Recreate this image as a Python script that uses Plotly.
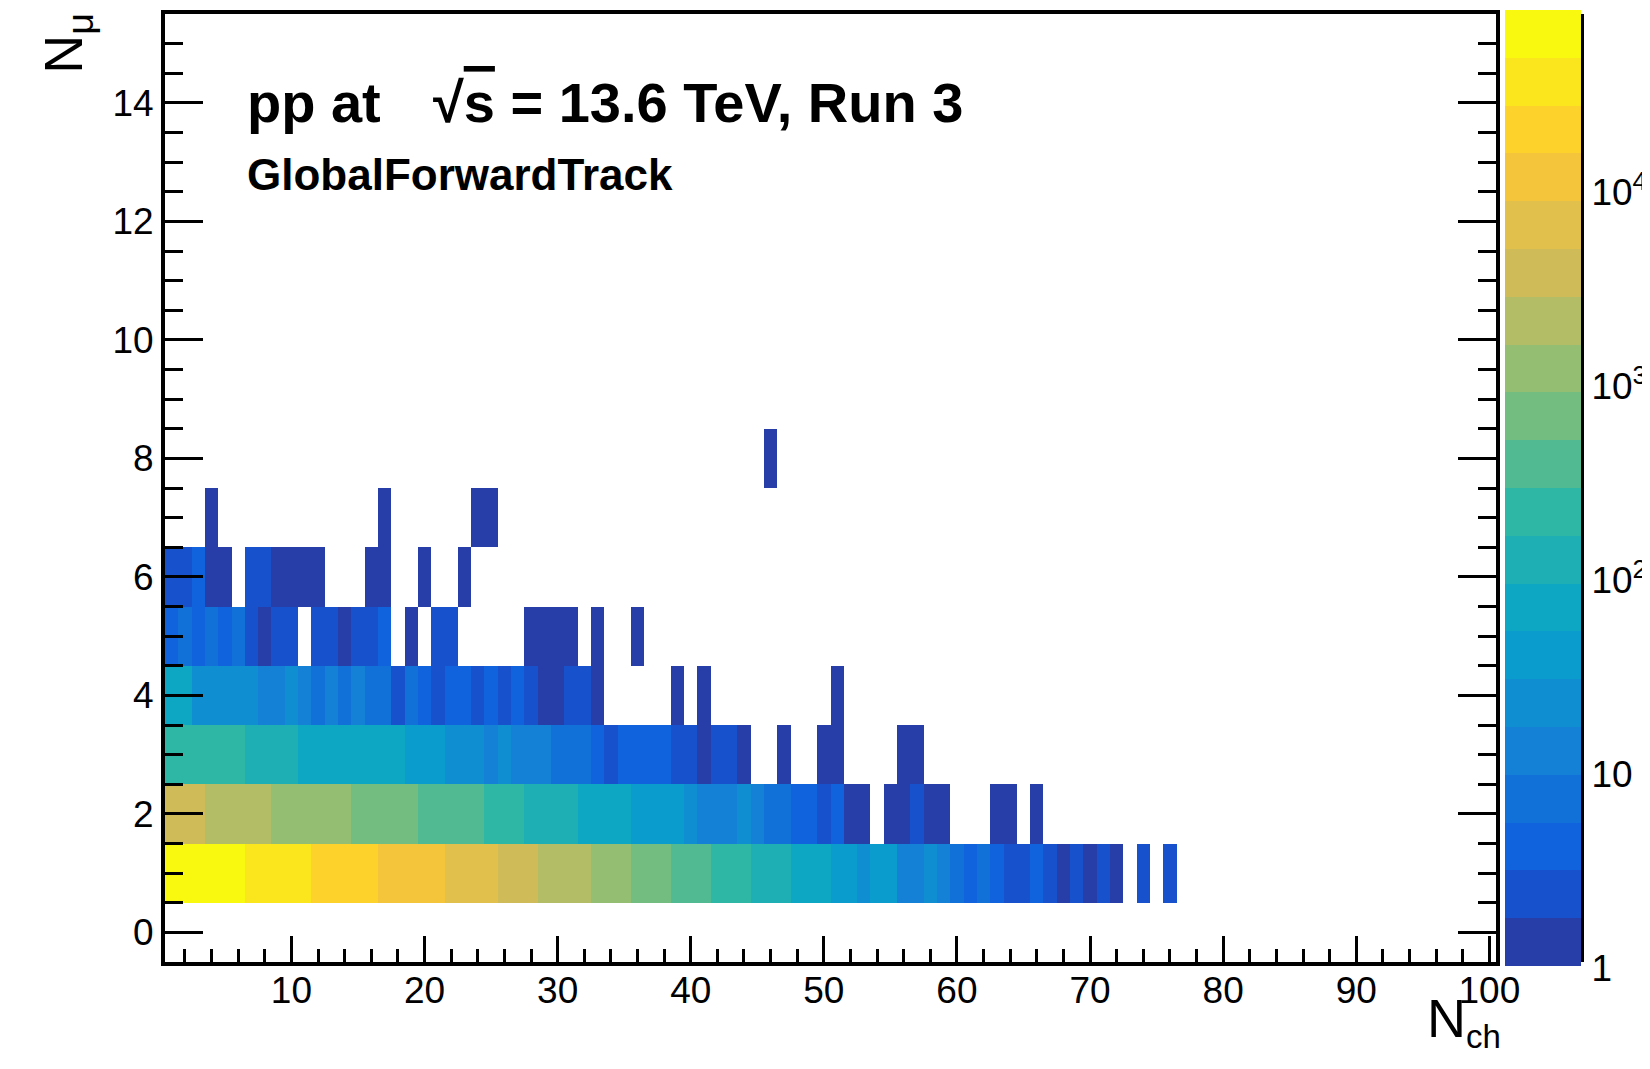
import numpy as np
import plotly.graph_objects as go

# ---------------- data (counts per N_ch bin, starting at N_ch = 1) ----------------
n_ch = list(range(1, 101))
n_mu = list(range(0, 16))

counts_mu1 = [70000, 66000, 61000, 55000, 50000, 46000,
              41000, 37000, 33000, 29500, 26500,
              23500, 21000, 18500, 16500, 14800,
              13200, 12000, 10800, 9600, 8500,
              7500, 6600, 5800, 5000,
              4300, 3700, 3100,
              2450, 2150, 1850, 1600,
              1350, 1150, 950,
              790, 660, 560,
              460, 390, 330,
              265, 220, 185,
              150, 125, 100,
              84, 70, 58,
              46, 38, 27, 33, 31,
              15, 13, 18, 12, 8,
              5, 6, 4, 3, 2, 4, 2, 1, 2, 1, 2, 1, 0, 2, 0, 2]
counts_mu2 = [3600, 3400, 3000,
              2500, 2300, 2100, 1900, 1650,
              1450, 1350, 1250, 1150, 1000, 900,
              820, 740, 660, 580, 510,
              460, 410, 365, 325, 290,
              255, 215, 180,
              150, 130, 110, 95,
              84, 72, 63, 55,
              48, 42, 36, 31,
              27, 16, 14, 12, 18, 10, 8, 7, 5, 4, 3, 4,
              1, 1, 0, 1, 1, 2, 1, 1, 0, 0, 0, 1, 1, 0, 1]
counts_mu3 = [260, 240, 220, 200, 185, 170,
              150, 130, 115, 100,
              88, 82, 76, 70, 65, 60, 56, 53,
              46, 40, 34,
              28, 24, 20, 15, 18, 15, 13, 11,
              9, 8, 7, 5, 3, 5, 4, 4, 4, 3, 2,
              1, 2, 2, 1, 0, 0, 1, 0, 0, 1, 1, 0, 0, 0, 0, 1, 1]
counts_mu4 = [60, 55, 28, 26, 24, 22, 20, 15, 14, 17,
              12, 8, 11, 7, 10, 7, 6, 3, 6, 5,
              3, 4, 4, 2, 4, 2, 4, 2, 1, 1,
              2, 2, 1, 0, 0, 0, 0, 0, 1, 0,
              1, 0, 0, 0, 0, 0, 0, 0, 0, 0, 1]
counts_mu5 = [5, 6, 5, 6, 5, 6, 3, 1, 2, 2,
              0, 2, 2, 1, 2, 2, 4, 0, 1, 0,
              2, 2, 0, 0, 0, 0, 0, 1, 1, 1,
              1, 0, 1, 0, 0, 1]
counts_mu6 = [2, 2, 4, 1, 1, 0, 2, 2, 1, 1,
              1, 1, 0, 0, 0, 1, 1, 0, 0, 1,
              0, 0, 1]
counts_mu7 = [0, 0, 0, 1, 0, 0, 0, 0, 0, 0,
              0, 0, 0, 0, 0, 0, 1, 0, 0, 0,
              0, 0, 0, 1, 1]
counts_mu8 = [0] * 45 + [1]

rows = {1: counts_mu1, 2: counts_mu2, 3: counts_mu3, 4: counts_mu4,
        5: counts_mu5, 6: counts_mu6, 7: counts_mu7, 8: counts_mu8}

cbar_tickvals = [0, 1, 2, 3, 4]
cbar_ticktext = ["1", "10", "10<sup>2</sup>", "10<sup>3</sup>", "10<sup>4</sup>"]
log_zmax = 4.89
n_contours = 20

# ---------------- build matrix of log10(counts) ----------------
z = [[None] * len(n_ch) for _ in n_mu]
for mu, vals in rows.items():
    for i, c in enumerate(vals):
        if c > 0:
            z[mu][i] = float(np.log10(c))

# ---------------- ROOT kBird palette, 20 discrete contour colours ----------------
stops = [0.0, 0.125, 0.25, 0.375, 0.5, 0.625, 0.75, 0.875, 1.0]
red = [0.2082, 0.0592, 0.0780, 0.0232, 0.1802, 0.5301, 0.8186, 0.9956, 0.9764]
green = [0.1664, 0.3599, 0.5041, 0.6419, 0.7178, 0.7492, 0.7328, 0.7862, 0.9832]
blue = [0.5293, 0.8684, 0.8385, 0.7914, 0.6425, 0.4662, 0.3499, 0.1968, 0.0539]


def bird(t):
    r = np.interp(t, stops, red)
    g = np.interp(t, stops, green)
    b = np.interp(t, stops, blue)
    return "rgb(%d,%d,%d)" % (round(r * 255), round(g * 255), round(b * 255))


colorscale = []
for i in range(n_contours):
    idx = int((i + 0.99) * 255 / n_contours)
    col = bird(idx / 255)
    colorscale.append([i / n_contours, col])
    colorscale.append([(i + 1) / n_contours, col])

# minor ticks of the log colour axis
minor_vals = [float(np.log10(m * 10 ** d)) for d in range(0, 5) for m in range(2, 10)
              if np.log10(m * 10 ** d) < log_zmax]

FONT = "Liberation Sans, Arial, Helvetica, sans-serif"

# page geometry (the html body adds an 8 px offset)
OFF = 8
W, H = 1650 - OFF, 1069 - OFF
area_left, area_right, area_top, area_bottom = 165, 1581, 10, 962
L = area_left - OFF
T = area_top - OFF
R = W + OFF - area_right
B = H + OFF - area_bottom
pw = area_right - area_left
ph = area_bottom - area_top
main_right = 1496
cb_left = 1505
x_main_end = (main_right - area_left) / pw
x_cb = (cb_left - area_left) / pw

fig = go.Figure()
fig.add_trace(go.Heatmap(
    x=n_ch, y=n_mu, z=z,
    zmin=0, zmax=log_zmax,
    colorscale=colorscale,
    xaxis="x", yaxis="y",
    colorbar=dict(x=x_cb, xanchor="left", y=0.5, yanchor="middle",
                  len=ph + 4, lenmode="pixels", thickness=area_right - cb_left,
                  thicknessmode="pixels", xpad=0, ypad=0, outlinewidth=0,
                  showticklabels=False, ticks=""),
))
# empty trace so that the colour-axis subplot exists
fig.add_trace(go.Scatter(x=[], y=[], xaxis="x2", yaxis="y2", showlegend=False))

TICKFONT = dict(family=FONT, size=37, color="black")
axis_common = dict(showgrid=False, zeroline=False, showline=True, linecolor="black",
                   linewidth=4, ticks="inside", tickcolor="black", tickwidth=3,
                   tickfont=TICKFONT)

fig.update_layout(
    width=W, height=H,
    margin=dict(l=L, r=R, t=T, b=B),
    paper_bgcolor="white", plot_bgcolor="white",
    font=dict(family=FONT, size=37, color="black"),
    showlegend=False,
    xaxis=dict(domain=[0, x_main_end], range=[0.5, 100.5], tickmode="linear",
               tick0=0, dtick=10, ticklen=26, mirror=True, ticklabelstandoff=-7,
               minor=dict(dtick=2, tick0=0, ticklen=13, tickwidth=3, ticks="inside",
                          tickcolor="black", showgrid=False),
               anchor="y", **axis_common),
    yaxis=dict(domain=[0, 1], range=[-0.5, 15.5], tickmode="linear",
               tick0=0, dtick=2, ticklen=38, mirror="ticks",
               minor=dict(dtick=0.5, tick0=0, ticklen=18, tickwidth=3, ticks="inside",
                          tickcolor="black", showgrid=False),
               anchor="x", **axis_common),
    xaxis2=dict(domain=[x_cb, 1], range=[0, 1], anchor="y2", visible=False),
    yaxis2=dict(domain=[0, 1], range=[0, log_zmax], anchor="x2", side="right",
                tickmode="array", tickvals=cbar_tickvals, ticktext=cbar_ticktext,
                ticks="inside", ticklen=38, tickwidth=3, tickcolor="black",
                showline=True, linecolor="black", linewidth=3,
                showgrid=False, zeroline=False, ticklabelshift=6,
                minor=dict(tickvals=minor_vals, ticklen=18, tickwidth=3,
                           ticks="inside", tickcolor="black", showgrid=False),
                tickfont=TICKFONT),
)


def px_x(p):
    return (p - area_left) / pw


def px_y(p):
    return (area_bottom - p) / ph


annotations = [
    dict(text="<b>pp at</b>", x=px_x(245), y=px_y(99), xanchor="left", yanchor="middle",
         font=dict(size=56)),
    dict(text="<b>√<span style='text-decoration:overline'>s</span> = 13.6 TeV, Run 3</b>",
         x=px_x(431), y=px_y(99), xanchor="left", yanchor="middle", font=dict(size=56)),
    dict(text="<b>GlobalForwardTrack</b>", x=px_x(245), y=px_y(171), xanchor="left",
         yanchor="middle", font=dict(size=44)),
    dict(text="N<sub><span style='font-size:33px'>ch</span></sub>", x=px_x(1425),
         y=px_y(1022), xanchor="left", yanchor="middle", font=dict(size=54)),
    dict(text="N<sub>μ</sub>", x=px_x(67), y=px_y(40), xanchor="center",
         yanchor="middle", textangle=-90, font=dict(size=54)),
]
for a in annotations:
    a.update(xref="paper", yref="paper", showarrow=False)
    a["font"].update(family=FONT, color="black")
fig.update_layout(annotations=annotations)

fig.write_html("out.html")
